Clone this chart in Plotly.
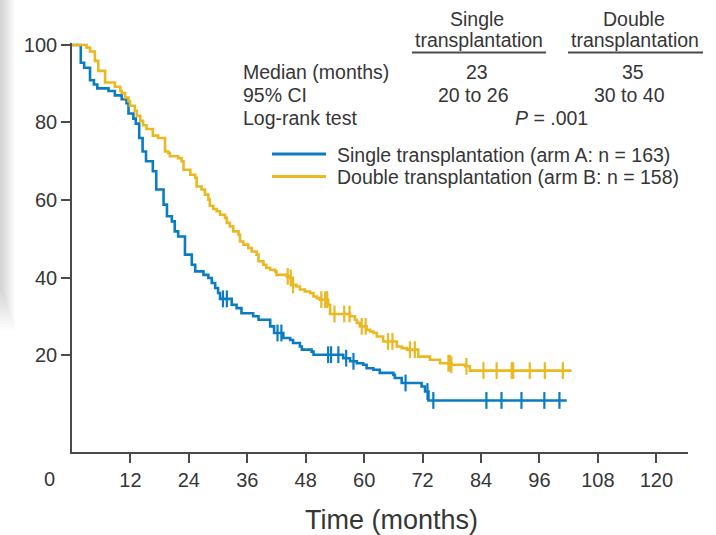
import bisect
import plotly.graph_objects as go

# Kaplan-Meier steps: time (months) at which the estimate drops, and the new estimate (%)
single_times = [0, 1.8, 2.5, 3.7, 4.5, 5.2, 7.5, 8.8, 10.2, 11.2, 11.6, 12.6, 13.1, 13.8,
                14.5, 15.2, 16.6, 17.3, 18.8, 19.5, 20.5, 21.1, 21.8, 23.2, 24.6, 25.3,
                27.0, 28.0, 28.7, 29.4, 30.0, 30.4, 32.8, 33.8, 34.8, 37.2, 38.3, 40.7,
                41.5, 43.4, 44.8, 45.4, 46.8, 47.2, 49.2, 49.6, 55.7, 57.1, 58.5, 59.8,
                60.5, 61.9, 63.2, 66.0, 66.3, 67.7, 71.8, 72.5, 73.2]
single_surv = [100, 95.4, 94.1, 90.9, 89.8, 88.8, 88.1, 87.0, 86.0, 85.0, 82.3, 81.0, 79.7,
               76.0, 72.5, 70.0, 67.4, 62.7, 58.8, 55.8, 54.5, 51.9, 50.6, 45.9, 43.3, 41.6,
               40.7, 39.9, 38.6, 37.3, 36.0, 34.5, 33.0, 32.1, 30.8, 30.0, 29.1, 27.4, 25.7,
               24.4, 23.9, 23.1, 22.2, 21.4, 20.9, 20.1, 19.2, 18.4, 17.9, 17.5, 16.6, 16.2,
               15.4, 14.9, 14.1, 12.8, 11.9, 10.6, 8.3]
single_end = 101.6
single_censor = [31.0, 31.8, 42.2, 43.0, 52.6, 53.2, 54.7, 56.3, 57.8, 68.5, 73.0, 74.2,
                 85.1, 88.2, 92.3, 97.0, 100.1]

double_times = [0, 3.0, 3.7, 4.7, 5.4, 6.8, 8.8, 9.9, 10.2, 10.9, 11.6, 11.9, 12.9, 13.3,
                14.0, 14.6, 15.3, 16.6, 17.7, 19.1, 19.8, 20.1, 21.8, 22.5, 22.9, 24.3,
                25.3, 25.6, 26.6, 27.3, 28.0, 28.3, 29.0, 29.7, 30.4, 31.4, 31.8, 32.4,
                33.1, 34.2, 34.5, 35.2, 36.2, 36.9, 37.9, 38.3, 39.3, 39.9, 40.7, 41.7,
                42.0, 44.1, 44.8, 45.1, 46.1, 46.8, 47.8, 48.9, 49.6, 50.3, 50.9, 52.6,
                53.0, 57.1, 58.1, 58.5, 59.1, 60.5, 61.2, 61.9, 62.6, 63.9, 66.7, 67.7,
                68.8, 71.1, 73.5, 75.6, 77.9, 80.7, 81.7]
double_surv = [100, 99.3, 98.3, 95.9, 93.3, 90.3, 89.2, 88.1, 87.6, 86.4, 85.5, 84.3, 83.0,
               81.7, 80.4, 79.3, 78.3, 76.6, 76.0, 72.5, 72.1, 71.3, 70.8, 70.0, 67.8, 66.5,
               65.7, 63.5, 62.7, 61.4, 60.1, 58.5, 57.7, 57.1, 56.2, 55.4, 54.1, 53.2, 51.9,
               51.0, 49.3, 48.5, 47.6, 46.7, 45.9, 44.2, 43.3, 42.5, 42.0, 41.6, 40.7, 40.3,
               39.9, 38.1, 37.7, 36.9, 36.4, 36.0, 35.1, 34.7, 34.3, 33.0, 30.6, 30.0, 29.1,
               28.3, 27.4, 26.5, 26.1, 25.7, 24.8, 23.5, 22.2, 21.8, 21.4, 19.6, 18.8, 17.9,
               17.5, 17.1, 16.0]
double_end = 102.6
double_censor = [44.3, 44.9, 45.4, 51.2, 52.0, 52.4, 53.9, 55.9, 57.0, 59.5, 60.3, 64.9,
                 65.8, 69.4, 70.4, 77.3, 77.6, 77.9, 81.0, 84.5, 87.2, 90.3, 90.6, 94.0,
                 97.1, 100.8]

x_ticks = [12, 24, 36, 48, 60, 72, 84, 96, 108, 120]
y_ticks = [20, 40, 60, 80, 100]

BLUE = "#0a7cc4"
GOLD = "#ebb821"
INK = "#363636"
AXIS = "#4a4a4a"
FONT = "Liberation Sans, Arial, sans-serif"

W, H = 716, 535
ML, MR, MT, MB = 72, 28, 43, 83
PW, PH = W - ML - MR, H - MT - MB


def px(x):
    return (x - ML) / PW


def py(y):
    return (H - MB - y) / PH


def surv_at(times, surv, t):
    return surv[bisect.bisect_right(times, t) - 1]


fig = go.Figure()

for times, surv, end, cens, color in [
    (single_times, single_surv, single_end, single_censor, BLUE),
    (double_times, double_surv, double_end, double_censor, GOLD),
]:
    fig.add_trace(go.Scatter(
        x=times + [end], y=surv + [surv[-1]], mode="lines",
        line=dict(color=color, width=2.6, shape="hv"),
        showlegend=False, hoverinfo="skip"))
    fig.add_trace(go.Scatter(
        x=cens, y=[surv_at(times, surv, t) for t in cens], mode="markers",
        marker=dict(symbol="line-ns", size=12, line=dict(color=color, width=2.2)),
        showlegend=False, hoverinfo="skip"))

fig.update_xaxes(
    range=[0, 126.5], tickvals=x_ticks, ticktext=[str(v) for v in x_ticks],
    showgrid=False, zeroline=False, showline=True, linecolor=AXIS, linewidth=1.6,
    ticks="outside", ticklen=9, tickwidth=1.6, tickcolor=AXIS, automargin=False,
    tickfont=dict(family=FONT, size=20, color=INK))
fig.update_yaxes(
    range=[-5, 100.5], tickvals=y_ticks, ticktext=[str(v) for v in y_ticks],
    showgrid=False, zeroline=False, showline=True, linecolor=AXIS, linewidth=1.6,
    ticks="outside", ticklen=9, tickwidth=1.6, tickcolor=AXIS, automargin=False,
    tickfont=dict(family=FONT, size=20, color=INK))

ann = []


def text(s, x, y, anchor="center", size=19.5):
    ann.append(dict(text=s, x=px(x), y=py(y), xref="paper", yref="paper",
                    xanchor=anchor, yanchor="middle", showarrow=False,
                    font=dict(family=FONT, size=size, color=INK)))


# axis title and origin label
text("Time (months)", 391, 520, size=27)
text("0", 49, 479, size=20)

# summary table
text("Single", 477, 19)
text("transplantation", 479, 40)
text("Double", 634, 19)
text("transplantation", 635, 40)
text("Median (months)", 241, 72, anchor="left")
text("95% CI", 241, 95, anchor="left")
text("Log-rank test", 241, 118, anchor="left")
text("23", 477, 72)
text("35", 633, 72)
text("20 to 26", 473, 95)
text("30 to 40", 629, 95)
text("<i>P</i> = .001", 551, 118)

# legend
text("Single transplantation (arm A: n = 163)", 335, 155, anchor="left")
text("Double transplantation (arm B: n = 158)", 335, 177, anchor="left")

shapes = [
    dict(type="line", xref="paper", yref="paper", x0=px(412), x1=px(546), y0=py(52.5), y1=py(52.5),
         line=dict(color=AXIS, width=2)),
    dict(type="line", xref="paper", yref="paper", x0=px(568), x1=px(703), y0=py(52.5), y1=py(52.5),
         line=dict(color=AXIS, width=2)),
    dict(type="line", xref="paper", yref="paper", x0=px(272), x1=px(326), y0=py(154), y1=py(154),
         line=dict(color=BLUE, width=3)),
    dict(type="line", xref="paper", yref="paper", x0=px(272), x1=px(326), y0=py(176.5), y1=py(176.5),
         line=dict(color=GOLD, width=3)),
]
# soft page-edge shading on the left
for i in range(14):
    shapes.append(dict(type="rect", xref="paper", yref="paper", layer="below",
                       x0=px(0), x1=px(15 - i), y0=py(330 - i * 3), y1=py(0),
                       line=dict(width=0), fillcolor="rgba(0,0,0,0.012)"))

fig.update_layout(
    width=W, height=H, margin=dict(l=ML, r=MR, t=MT, b=MB),
    paper_bgcolor="white", plot_bgcolor="white",
    annotations=ann, shapes=shapes, showlegend=False)

fig.write_html("out.html")
